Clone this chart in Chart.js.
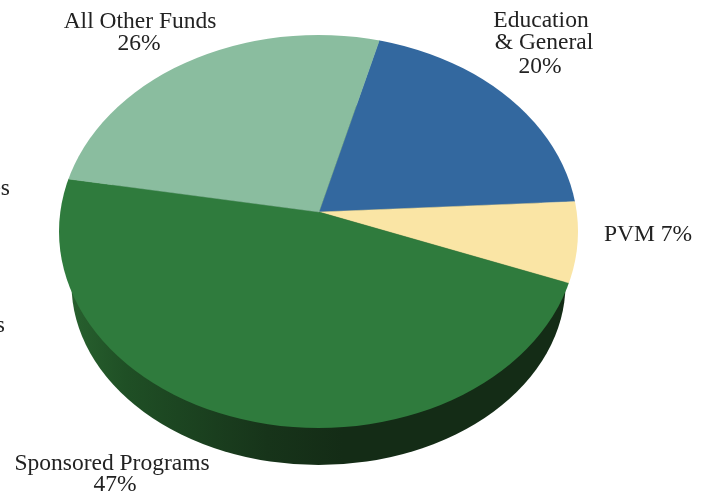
<!DOCTYPE html>
<html>
<head>
<meta charset="utf-8">
<title>Funds pie</title>
<script src="https://cdn.jsdelivr.net/npm/chart.js@4"></script>
<style>
  html, body { margin: 0; padding: 0; background: #fff; overflow: hidden; }
  canvas { display: block; }
</style>
</head>
<body>
<canvas id="funds-chart" width="706" height="498"></canvas>
<script>
// clockwise from the top of the pie (labels show them rounded)
const categories = ['Education & General', 'PVM', 'Sponsored Programs', 'All Other Funds'];
const shares = [20, 6.6, 47, 26.4];
const sliceColors = ['#33689f', '#fae5a5', '#2f7b3d', '#8abd9f'];

// label lines: text, x, baseline y, alignment
const labelLines = [
  ['Education', 541, 27, 'center'],
  ['& General', 544, 49, 'center'],
  ['20%', 540, 73, 'center'],
  ['PVM 7%', 604, 241, 'left'],
  ['Sponsored Programs', 112, 470, 'center'],
  ['47%', 115, 491, 'center'],
  ['All Other Funds', 140, 28, 'center'],
  ['26%', 139, 50, 'center'],
  // labels cut off by the left edge in the source picture
  ['es', 10, 195, 'right'],
  ['s', 5, 332, 'right']
];

// fake 3d: top face is an ellipse, the apex sits above its centre
const topFace = { x: 318.5, y: 231.5, rx: 259.5, ry: 196.5 };
const bottomFace = { x: 318.5, y: 284, rx: 247, ry: 181 };
const apexY = 212;

const tiltPlugin = {
  id: 'tilt',
  beforeDatasetsDraw(chart) {
    const ctx = chart.ctx;
    // side wall
    const wall = ctx.createLinearGradient(66, 0, 570, 0);
    wall.addColorStop(0, '#28622f');
    wall.addColorStop(0.12, '#1f4f25');
    wall.addColorStop(0.4, '#17341a');
    wall.addColorStop(0.55, '#142c16');
    wall.addColorStop(1, '#142c16');
    ctx.fillStyle = wall;
    ctx.beginPath();
    ctx.ellipse(bottomFace.x, bottomFace.y, bottomFace.rx, bottomFace.ry, 0, 0, Math.PI * 2);
    ctx.fill();
    // top face
    ctx.save();
    ctx.beginPath();
    ctx.ellipse(topFace.x, topFace.y, topFace.rx, topFace.ry, 0, 0, Math.PI * 2);
    ctx.clip();
    ctx.translate(0, apexY);
    ctx.scale(1, topFace.ry / topFace.rx);
    ctx.translate(0, -apexY);
  },
  afterDatasetsDraw(chart) {
    const ctx = chart.ctx;
    ctx.restore();
    ctx.fillStyle = '#222';
    ctx.font = '23.5px "Liberation Serif"';
    labelLines.forEach(function (l) {
      ctx.textAlign = l[3];
      ctx.fillText(l[0], l[1], l[2]);
    });
  }
};

new Chart(document.getElementById('funds-chart'), {
  type: 'pie',
  data: {
    labels: categories,
    datasets: [{
      data: shares,
      backgroundColor: sliceColors,
      borderColor: sliceColors,
      borderWidth: 0.5,
      clip: false
    }]
  },
  options: {
    responsive: false,
    animation: false,
    rotation: 14.9,
    radius: 310,
    layout: { padding: { right: 68, bottom: 74 } },
    plugins: { legend: { display: false }, tooltip: { enabled: false } }
  },
  plugins: [tiltPlugin]
});
</script>
</body>
</html>
